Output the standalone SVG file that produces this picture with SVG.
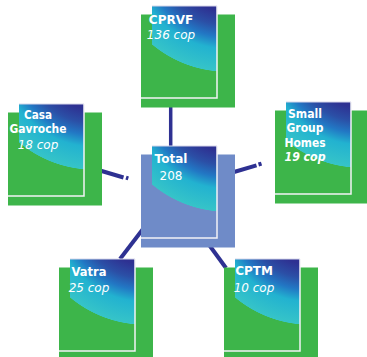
<svg xmlns="http://www.w3.org/2000/svg" width="367" height="357" viewBox="0 0 367 357">
<defs>
<radialGradient id="gG" gradientUnits="userSpaceOnUse" cx="75" cy="-51" r="117" fx="75" fy="-51">
<stop offset="0" stop-color="#2e3192"/>
<stop offset="0.48" stop-color="#2e3192"/>
<stop offset="0.6" stop-color="#2b4fa6"/>
<stop offset="0.7" stop-color="#2277c4"/>
<stop offset="0.8" stop-color="#22b2d0"/>
<stop offset="0.995" stop-color="#36c4c8"/>
<stop offset="1" stop-color="#3db54a"/>
</radialGradient>
<radialGradient id="gP" gradientUnits="userSpaceOnUse" cx="75" cy="-51" r="117" fx="75" fy="-51">
<stop offset="0" stop-color="#2e3192"/>
<stop offset="0.48" stop-color="#2e3192"/>
<stop offset="0.6" stop-color="#2b4fa6"/>
<stop offset="0.7" stop-color="#2277c4"/>
<stop offset="0.8" stop-color="#22b2d0"/>
<stop offset="0.995" stop-color="#36c4c8"/>
<stop offset="1" stop-color="#6f8bc8"/>
</radialGradient>
</defs>
<style>
.back{fill:#3db54a}
.backP{fill:#6f8bc8}
.front{fill:url(#gG)}
.frontP{fill:url(#gP)}
.edge{fill:none;stroke:#f2f2f6;stroke-width:1.5}
.top{fill:none;stroke:#d6d6ea;stroke-width:1}
.con{stroke:#2e3192;stroke-width:4;fill:none}
text{font-family:"DejaVu Sans","Verdana",sans-serif;font-size:12px;fill:#ffffff;text-anchor:middle}
.n{font-weight:bold}
.c{font-style:italic}
.cb{font-style:italic;font-weight:bold}
</style>
<g id="connectors">
<line class="con" x1="170.7" y1="104" x2="170.7" y2="148" style="stroke-width:3.5"/>
<line class="con" x1="100" y1="170.5" x2="123.5" y2="177.5"/>
<line class="con" x1="126" y1="177.6" x2="128.3" y2="178.3"/>
<line class="con" x1="234" y1="172" x2="256.5" y2="165.3"/>
<line class="con" x1="258.5" y1="164.5" x2="261.5" y2="163.6"/>
<line class="con" x1="120" y1="259" x2="143" y2="229"/>
<line class="con" x1="207" y1="242" x2="226" y2="268"/>
</g>
<g id="node-cprvf" transform="translate(152,6)">
<rect class="back" x="-11" y="8.5" width="94" height="93"/>
<rect class="front" x="0" y="0" width="65" height="92"/>
<line class="top" x1="0" y1="0" x2="65" y2="0"/>
<polyline class="edge" points="65,0 65,92 -11,92"/>
<text class="n" x="19" y="18">CPRVF</text>
<text class="c" x="19" y="33">136 cop</text>
</g>
<g id="node-total" transform="translate(152,146)">
<rect class="backP" x="-11" y="8.5" width="94" height="93"/>
<rect class="frontP" x="0" y="0" width="65" height="92"/>
<line class="top" x1="0" y1="0" x2="65" y2="0"/>
<polyline class="edge" points="65,0 65,92 -11,92"/>
<text class="n" x="19" y="17">Total</text>
<text x="19" y="34">208</text>
</g>
<g id="node-casa" transform="translate(19,104)">
<rect class="back" x="-11" y="8.5" width="94" height="93"/>
<rect class="front" x="0" y="0" width="65" height="92"/>
<line class="top" x1="0" y1="0" x2="65" y2="0"/>
<polyline class="edge" points="65,0 65,92 -11,92"/>
<text class="n" x="19" y="15" textLength="28" lengthAdjust="spacingAndGlyphs">Casa</text>
<text class="n" x="19" y="29" textLength="57" lengthAdjust="spacingAndGlyphs">Gavroche</text>
<text class="c" x="19" y="45">18 cop</text>
</g>
<g id="node-small" transform="translate(286,102)">
<rect class="back" x="-11" y="8.5" width="94" height="93"/>
<rect class="front" x="0" y="0" width="65" height="92"/>
<line class="top" x1="0" y1="0" x2="65" y2="0"/>
<polyline class="edge" points="65,0 65,92 -11,92"/>
<text class="n" x="19" y="16" textLength="34" lengthAdjust="spacingAndGlyphs">Small</text>
<text class="n" x="19" y="30" textLength="37" lengthAdjust="spacingAndGlyphs">Group</text>
<text class="n" x="19" y="45" textLength="41" lengthAdjust="spacingAndGlyphs">Homes</text>
<text class="cb" x="19" y="59" textLength="41" lengthAdjust="spacingAndGlyphs">19 cop</text>
</g>
<g id="node-vatra" transform="translate(70,259)">
<rect class="back" x="-11" y="8.5" width="94" height="93"/>
<rect class="front" x="0" y="0" width="65" height="92"/>
<line class="top" x1="0" y1="0" x2="65" y2="0"/>
<polyline class="edge" points="65,0 65,92 -11,92"/>
<text class="n" x="19" y="17" textLength="35" lengthAdjust="spacingAndGlyphs">Vatra</text>
<text class="c" x="19" y="33">25 cop</text>
</g>
<g id="node-cptm" transform="translate(235,259)">
<rect class="back" x="-11" y="8.5" width="94" height="93"/>
<rect class="front" x="0" y="0" width="65" height="92"/>
<line class="top" x1="0" y1="0" x2="65" y2="0"/>
<polyline class="edge" points="65,0 65,92 -11,92"/>
<text class="n" x="19" y="16">CPTM</text>
<text class="c" x="19" y="33">10 cop</text>
</g>
</svg>
